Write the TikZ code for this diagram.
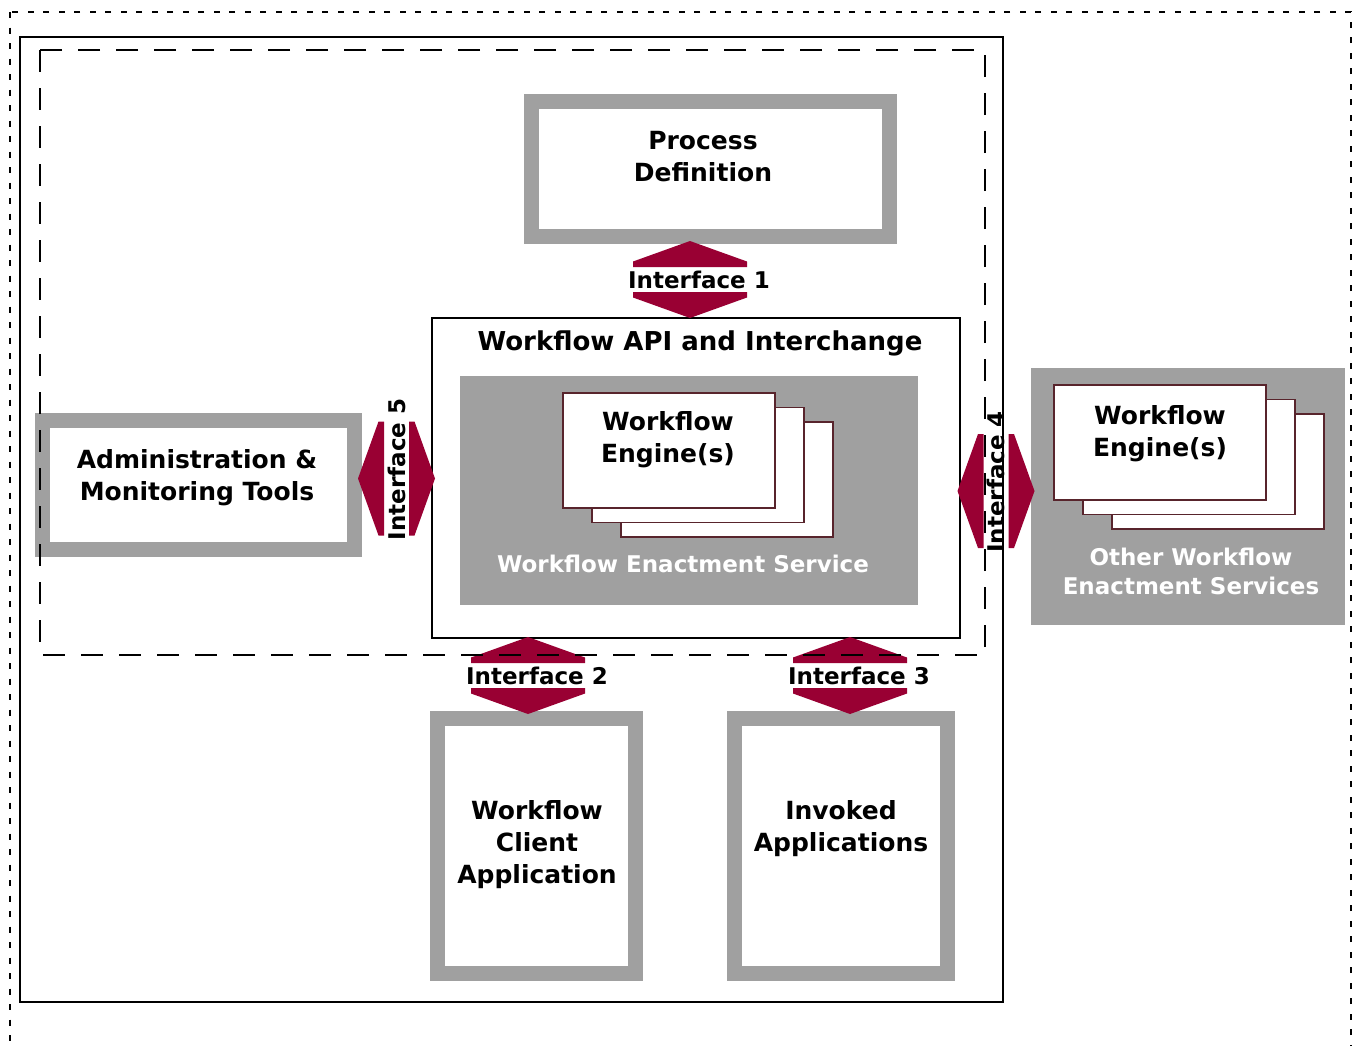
\documentclass[tikz,border=0pt]{standalone}
\usepackage{fontspec}
\setmainfont{DejaVu Sans}
\definecolor{ifred}{RGB}{153,0,51}
\definecolor{framegray}{RGB}{160,160,160}
\definecolor{engedge}{RGB}{88,36,44}
\tikzset{
  grayframe/.style={draw=framegray,line width=15pt,fill=white},
  engine/.style={draw=engedge,line width=1.6pt,fill=white},
  boxtext/.style={font=\bfseries\fontsize{25}{32}\selectfont,align=center,inner sep=0pt},
  whitetext/.style={boxtext,font=\bfseries\fontsize{23}{29}\selectfont,text=white},
  iftext/.style={font=\bfseries\fontsize{23}{27}\selectfont,inner sep=0pt},
}

\begin{document}
\begin{tikzpicture}
\begin{scope}[x=1pt,y=-1pt]
%        %% grid to pick the points (pixels of the sketch), comment out when done
%        \draw[help lines,step=50pt] (0,0) grid (1356,1045);
\useasboundingbox (0,0) rectangle (1356,1045);

% gray boxes
\draw[grayframe] (531.5,101.5) rectangle (889.5,236.5);
\draw[grayframe] (42.5,420.5) rectangle (354.5,549.5);
\draw[grayframe] (437.5,718.5) rectangle (635.5,973.5);
\draw[grayframe] (734.5,718.5) rectangle (947.5,973.5);

% enactment services
\draw[line width=1.5pt,fill=white] (432,318) rectangle (960,638);
\fill[framegray] (460,376) rectangle (918,605);
\fill[framegray] (1031,368) rectangle (1345,625);

% engines, back to front
\foreach \ex/\ey in {563/393, 1054/385}{
  \foreach \k in {2,1,0}
    \draw[engine] (\ex+\k*29,\ey+\k*14.5) rectangle ++(212,115);
}

% texts
\node[boxtext] (procdef) at (703,156.5) {Process\\Definition};
\node[boxtext] (admin) at (197,478) {Administration \&\\Monitoring Tools};
\node[boxtext,font=\bfseries\fontsize{26}{32}\selectfont] (api) at (700,343) {Workflow API and Interchange};
\node[boxtext] (engine) at (668,440) {Workflow\\Engine(s)};
\node[boxtext] (otherengine) at (1160,434) {Workflow\\Engine(s)};
\node[whitetext] (enact) at (683,564) {Workflow Enactment Service};
\node[whitetext] (otherenact) at (1191,571) {Other Workflow\\Enactment Services};
\node[boxtext] (client) at (537,845) {Workflow\\Client\\Application};
\node[boxtext] (invoked) at (841,828.5) {Invoked\\Applications};

% interfaces
\foreach \cx/\cy/\ang/\n in {690/279.5/0/1, 528/675.5/0/2, 850/675.5/0/3, 996/491/90/4, 396.5/478.5/90/5}{
  \begin{scope}[shift={(\cx,\cy)},rotate=\ang]
    \fill[ifred] (0,-38.5) -- (57,-18) -- (57,-12.5) -- (-57,-12.5) -- (-57,-18) -- cycle;
    \fill[ifred] (0,38.5) -- (57,18) -- (57,12.5) -- (-57,12.5) -- (-57,18) -- cycle;
    \node[iftext,transform shape] (if\n) at (9,0) {Interface \n};
  \end{scope}
}

% frames
\draw[line width=1.2pt] (20,37) rectangle (1003,1002);
\draw[line width=1.5pt,dash pattern=on 22pt off 16pt] (40,50) rectangle (985,655);
\draw[line width=1.8pt,dash pattern=on 6pt off 9.5pt] (10,12) rectangle (1351,1062);

\end{scope}
\end{tikzpicture}
\end{document}
